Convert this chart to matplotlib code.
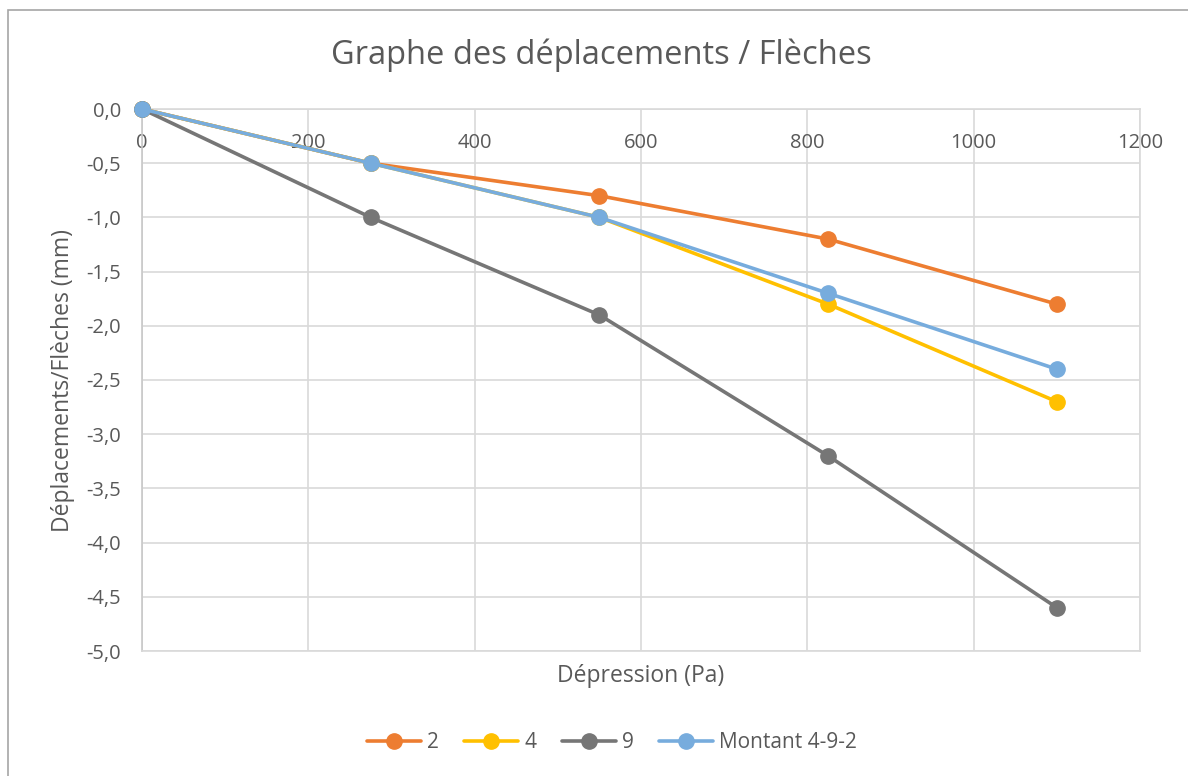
import matplotlib.pyplot as plt
from matplotlib.patches import Rectangle
from matplotlib.ticker import FuncFormatter

plt.rcParams['font.family'] = ['Open Sans', 'DejaVu Sans']

# pressure steps (Pa) and measured deflections (mm) per post
pressure = [0, 275, 550, 825, 1100]
defl_2 = [0, -0.5, -0.8, -1.2, -1.8]
defl_4 = [0, -0.5, -1.0, -1.8, -2.7]
defl_9 = [0, -1.0, -1.9, -3.2, -4.6]
defl_montant = [0, -0.5, -1.0, -1.7, -2.4]

labels = ['2', '4', '9', 'Montant 4-9-2']
colors = ['#ED7D31', '#FFC000', '#767676', '#77ACDD']

text_col = '#595959'
grid_col = '#D9D9D9'

fig = plt.figure(figsize=(11.88, 7.76), dpi=100)
W, H = 1188, 776
ax = fig.add_axes([142 / W, 1 - 651 / H, (1140 - 142) / W, (651 - 109) / H])

# chart frame
fig.patches.append(Rectangle((8 / W, -0.1), 1.2, 1 - 10 / H + 0.1,
                             transform=fig.transFigure, fill=False,
                             edgecolor='#A6A6A6', linewidth=1.2))

series = [defl_2, defl_4, defl_9, defl_montant]
for ys, lab, c in zip(series, labels, colors):
    ax.plot(pressure, ys, color=c, lw=2.6, marker='o', ms=11,
            label=lab, solid_capstyle='round', clip_on=False, zorder=3)

ax.set_xlim(0, 1200)
ax.set_ylim(-5, 0)
ax.set_xticks(range(0, 1201, 200))
ax.set_yticks([-5 + 0.5 * i for i in range(11)])
ax.yaxis.set_major_formatter(FuncFormatter(lambda v, p: f'{v:.1f}'.replace('.', ',')))
ax.xaxis.tick_top()
ax.tick_params(axis='x', length=0, pad=-32, labelsize=14.5, labelcolor=text_col)
ax.tick_params(axis='y', length=0, pad=15, labelsize=14.5, labelcolor=text_col)
ax.grid(True, color=grid_col, lw=1.2)
ax.set_axisbelow(True)
for name, sp in ax.spines.items():
    sp.set_color(grid_col)
    sp.set_linewidth(1.2)
ax.spines['left'].set_color('#C8C8C8')

ax.set_xlabel('Dépression (Pa)', fontsize=16.5, color=text_col, labelpad=9)
ax.xaxis.set_label_position('bottom')
ax.set_ylabel('Déplacements/Flèches (mm)', fontsize=16.5, color=text_col, labelpad=8)

fig.text(601 / W, 1 - 55 / H, 'Graphe des déplacements / Flèches',
         ha='center', va='center', fontsize=23.5, color=text_col)

leg = fig.legend(loc='center', bbox_to_anchor=(612 / W, 1 - 743 / H), ncol=4,
                 frameon=False, fontsize=15, handlelength=2.6, handletextpad=0.3,
                 columnspacing=1.2, labelcolor=text_col)

fig.savefig('out.png', dpi=100)
